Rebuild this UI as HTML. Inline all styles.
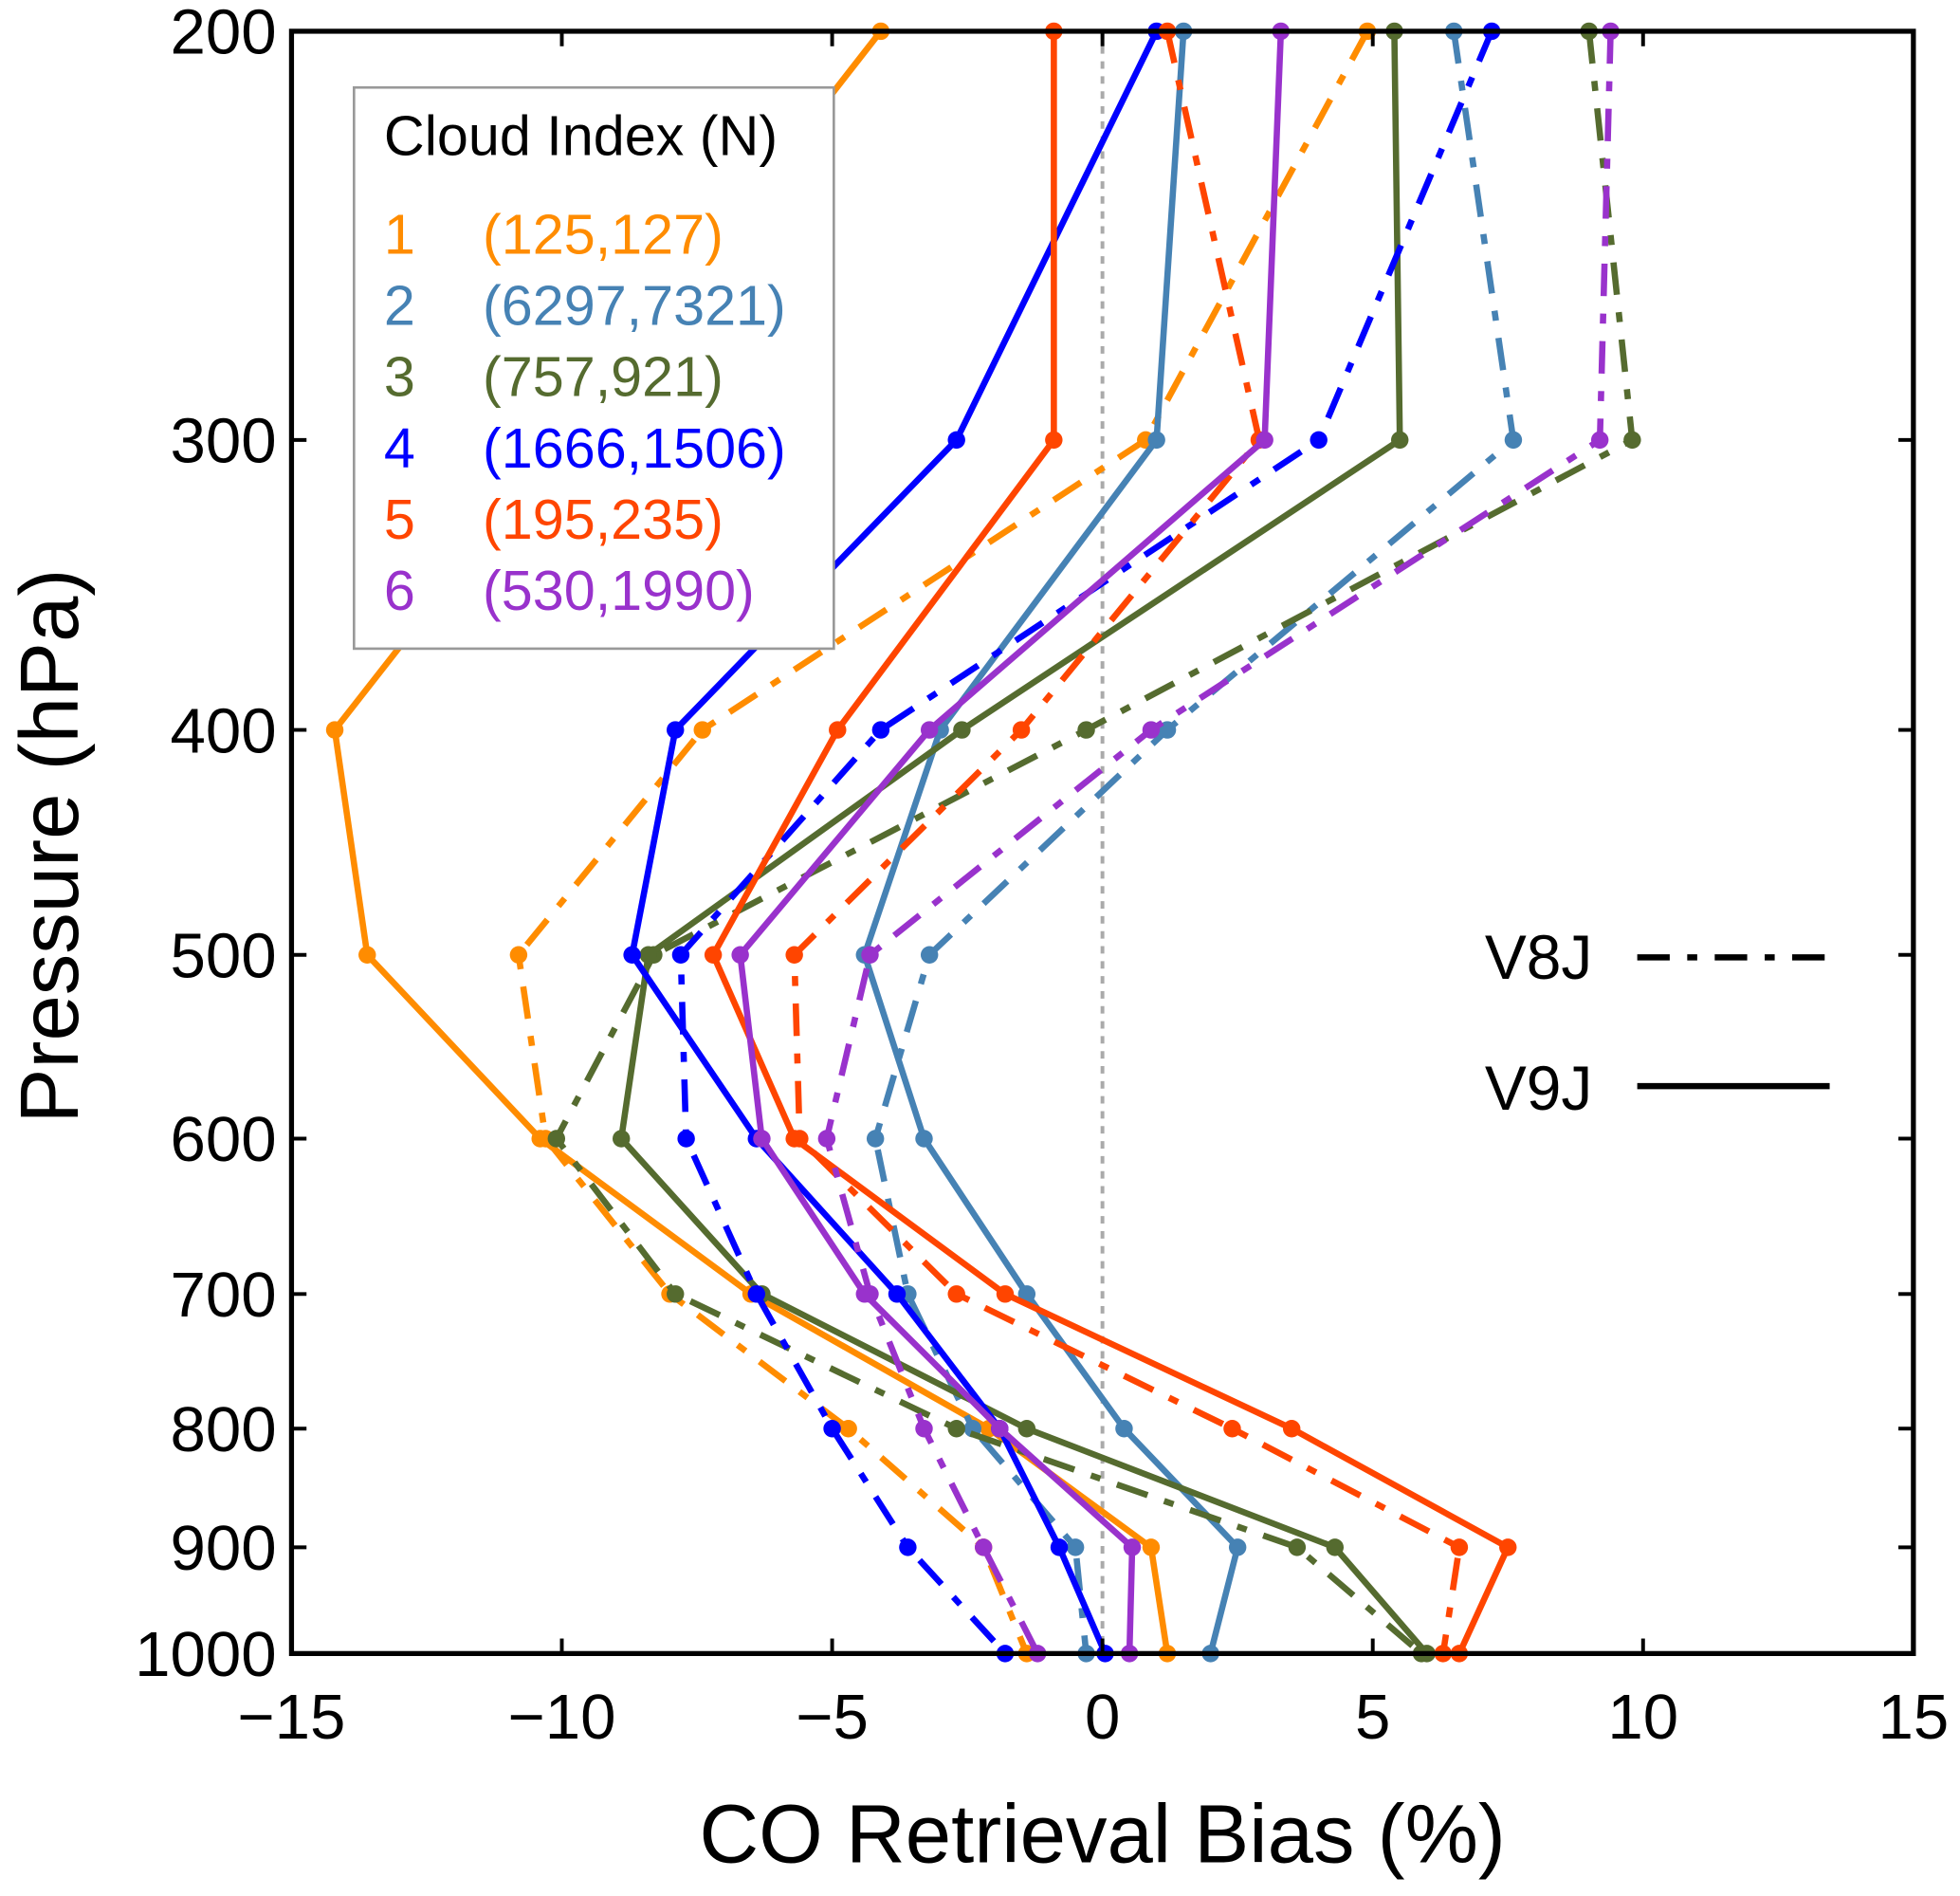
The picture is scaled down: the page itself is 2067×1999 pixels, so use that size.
<!DOCTYPE html>
<html><head><meta charset="utf-8"><style>html,body{margin:0;padding:0;background:#fff}svg{display:block}text{font-family:"Liberation Sans",sans-serif}</style></head>
<body>
<svg id="chart" width="2067" height="1999" viewBox="0 0 1568 1517" xmlns="http://www.w3.org/2000/svg">
<g id="marks"></g>
<g id="axes"></g>
</svg>
<script>
const levels = [200,300,400,500,600,700,800,900,1000];
const seriesNames = ["1","2","3","4","5","6"];
const seriesN = ["(125,127)","(6297,7321)","(757,921)","(1666,1506)","(195,235)","(530,1990)"];
const colors = ["#ff8c00","#4682b4","#556b2f","#0000ff","#ff4500","#9932cc"];
const v9j_1 = [-4.1,-10.0,-14.2,-13.6,-10.4,-6.5,-2.1,0.9,1.2];
const v8j_1 = [4.9,0.8,-7.4,-10.8,-10.3,-8.0,-4.7,-2.2,-1.4];
const v9j_2 = [1.5,1.0,-3.0,-4.4,-3.3,-1.4,0.4,2.5,2.0];
const v8j_2 = [6.5,7.6,1.2,-3.2,-4.2,-3.6,-2.4,-0.5,-0.3];
const v9j_3 = [5.4,5.5,-2.6,-8.4,-8.9,-6.3,-1.4,4.3,6.0];
const v8j_3 = [9.0,9.8,-0.3,-8.3,-10.1,-7.9,-2.7,3.6,5.9];
const v9j_4 = [1.0,-2.7,-7.9,-8.7,-6.4,-3.8,-1.9,-0.8,0.05];
const v8j_4 = [7.2,4.0,-4.1,-7.8,-7.7,-6.4,-5.0,-3.6,-1.8];
const v9j_5 = [-0.9,-0.9,-4.9,-7.2,-5.7,-1.8,3.5,7.5,6.6];
const v8j_5 = [1.2,2.9,-1.5,-5.7,-5.6,-2.7,2.4,6.6,6.3];
const v9j_6 = [3.3,3.0,-3.2,-6.7,-6.3,-4.4,-1.9,0.55,0.5];
const v8j_6 = [9.4,9.2,0.9,-4.3,-5.1,-4.3,-3.3,-2.2,-1.2];
const xTicks = [-15,-10,-5,0,5,10,15];
const xTickLabels = ["\u221215","\u221210","\u22125","0","5","10","15"];

const L=233,R=1531,T=25,B=1323;
const xs = v => L + (v+15)/30*(R-L);
const ys = p => T + Math.log(p/200)/Math.log(1000/200)*(B-T);
const NS="http://www.w3.org/2000/svg";
function mk(tag, attrs, parent){const e=document.createElementNS(NS,tag);for(const k in attrs)e.setAttribute(k,attrs[k]);parent.appendChild(e);return e;}
const marks=document.getElementById('marks'), axes=document.getElementById('axes');

const zl=mk('line',{x1:xs(0),x2:xs(0),y1:T,y2:B,stroke:'#aaa','stroke-width':3,'stroke-dasharray':'6,6'},marks);



const v9=[v9j_1,v9j_2,v9j_3,v9j_4,v9j_5,v9j_6], v8=[v8j_1,v8j_2,v8j_3,v8j_4,v8j_5,v8j_6];
function drawSeries(vals,color,dash,name){
  const pts=vals.map((v,i)=>xs(v).toFixed(1)+','+ys(levels[i]).toFixed(1)).join(' ');
  const pl=mk('polyline',{points:pts,fill:'none',stroke:color,'stroke-width':5,'stroke-linejoin':'round'},marks);
  if(dash) pl.setAttribute('stroke-dasharray','26,14,8,14');
  
  
  vals.forEach((v,i)=>{
    const c=mk('circle',{cx:xs(v),cy:ys(levels[i]),r:7,fill:color},marks);
    
    
  });
}
for(let s=0;s<6;s++){drawSeries(v8[s],colors[s],true,'v8j-series-'+seriesNames[s]);drawSeries(v9[s],colors[s],false,'v9j-series-'+seriesNames[s]);}

const fr=mk('rect',{x:L,y:T,width:R-L,height:B-T,fill:'none',stroke:'#000','stroke-width':4},axes);


xTicks.forEach((t,i)=>{
  const x=xs(t);
  mk('line',{x1:x,x2:x,y1:B,y2:B-12,stroke:'#000','stroke-width':3},axes);
  mk('line',{x1:x,x2:x,y1:T,y2:T+12,stroke:'#000','stroke-width':3},axes);
  const tx=mk('text',{x:x,y:B+68,'font-size':51,'text-anchor':'middle'},axes);
  tx.textContent=xTickLabels[i];
  
  
});
levels.forEach(p=>{
  const y=ys(p);
  mk('line',{x1:L,x2:L+12,y1:y,y2:y,stroke:'#000','stroke-width':3},axes);
  mk('line',{x1:R,x2:R-12,y1:y,y2:y,stroke:'#000','stroke-width':3},axes);
  const tx=mk('text',{x:L-12,y:y+18,'font-size':51,'text-anchor':'end'},axes);
  tx.textContent=String(p);
  
  
});
const xt=mk('text',{x:882,y:1490,'font-size':66,'text-anchor':'middle'},axes);
xt.textContent='CO Retrieval Bias (%)';


const yt=mk('text',{x:0,y:0,'font-size':66,'text-anchor':'middle',transform:'translate(62,677) rotate(-90)'},axes);
yt.textContent='Pressure (hPa)';



const lg=mk('g',{},axes);


mk('rect',{x:283,y:70,width:384,height:449,fill:'#fff',stroke:'#999','stroke-width':2},lg);
const lt=mk('text',{x:307,y:124,'font-size':45},lg);
lt.textContent='Cloud Index (N)';


for(let s=0;s<6;s++){
  const y=203+s*57;
  const a=mk('text',{x:307,y:y,'font-size':45,fill:colors[s]},lg);
  a.textContent=seriesNames[s];
  
  
  const b=mk('text',{x:386,y:y,'font-size':45,fill:colors[s]},lg);
  b.textContent=seriesN[s];
  
  
}
const vl=mk('g',{},axes);


const t8=mk('text',{x:1188,y:783,'font-size':50},vl);t8.textContent='V8J';


mk('line',{x1:1310,x2:1466,y1:766,y2:766,stroke:'#000','stroke-width':5,'stroke-dasharray':'26,14,8,14'},vl);
const t9=mk('text',{x:1188,y:888,'font-size':50},vl);t9.textContent='V9J';


mk('line',{x1:1310,x2:1464,y1:869,y2:869,stroke:'#000','stroke-width':5},vl);
</script>
</body></html>
